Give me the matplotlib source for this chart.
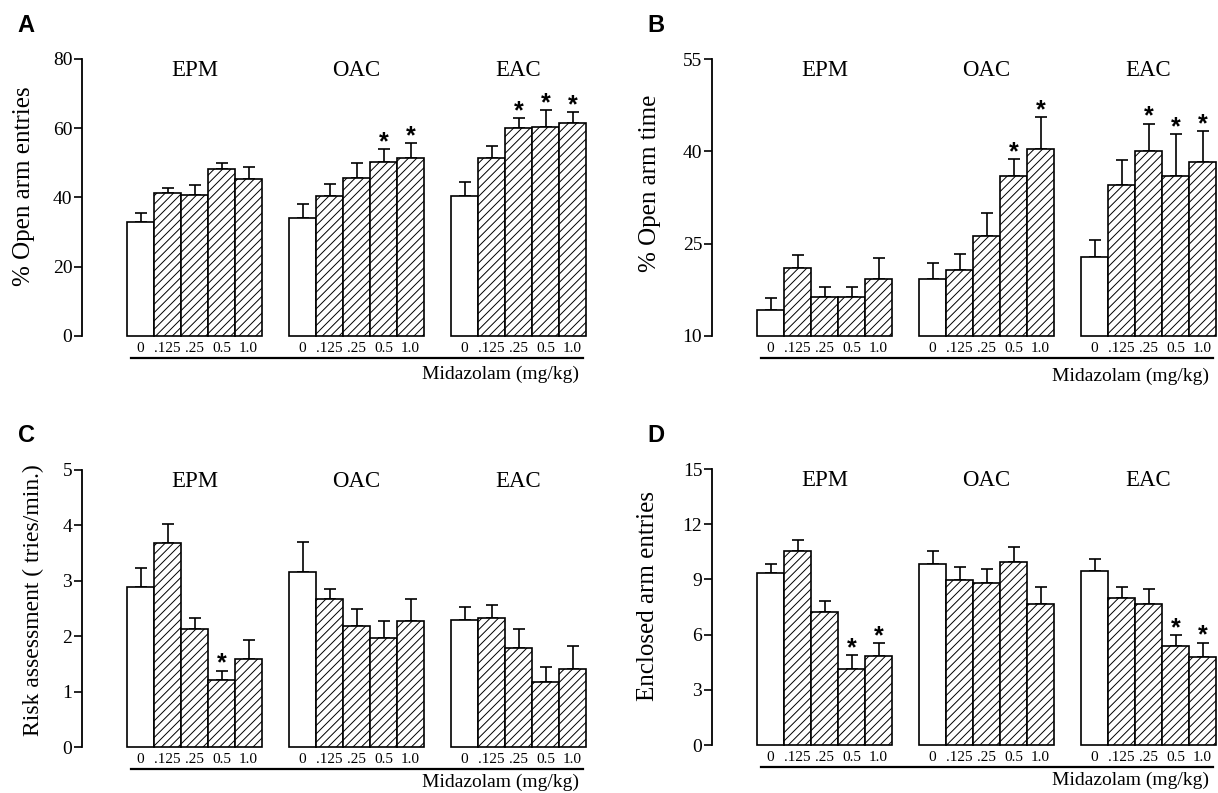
import matplotlib
matplotlib.use('Agg')
import matplotlib.pyplot as plt

plt.rcParams['font.family'] = ['Liberation Serif', 'DejaVu Serif']
plt.rcParams['hatch.linewidth'] = 0.7

W, H = 1218, 793

doses = ['0', '.125', '.25', '0.5', '1.0']
tests = ['EPM', 'OAC', 'EAC']

# A: % open arm entries (bar height, top of error bar), groups EPM / OAC / EAC
a_mean = [[33.0, 41.2, 40.8, 48.1, 45.3],
          [34.0, 40.4, 45.5, 50.3, 51.3],
          [40.3, 51.3, 60.1, 60.5, 61.4]]
a_top = [[35.4, 42.6, 43.5, 50.0, 48.8],
         [38.0, 44.0, 49.9, 53.9, 55.8],
         [44.6, 55.0, 63.0, 65.3, 64.7]]
a_star = [(1, 3), (1, 4), (2, 2), (2, 3), (2, 4)]

# B: % open arm time
b_mean = [[14.3, 21.1, 16.4, 16.4, 19.3],
          [19.2, 20.7, 26.3, 36.0, 40.3],
          [22.9, 34.6, 40.1, 36.0, 38.2]]
b_top = [[16.1, 23.2, 18.0, 18.0, 22.7],
         [21.9, 23.3, 30.0, 38.7, 45.5],
         [25.6, 38.6, 44.5, 42.8, 43.3]]
b_star = [(1, 3), (1, 4), (2, 2), (2, 3), (2, 4)]

# C: risk assessment (tries/min.)
c_mean = [[2.89, 3.68, 2.13, 1.21, 1.58],
          [3.15, 2.67, 2.19, 1.97, 2.28],
          [2.29, 2.33, 1.78, 1.18, 1.41]]
c_top = [[3.24, 4.03, 2.32, 1.38, 1.93],
         [3.70, 2.85, 2.50, 2.27, 2.68],
         [2.53, 2.56, 2.13, 1.45, 1.82]]
c_star = [(0, 3)]

# D: enclosed arm entries
d_mean = [[9.33, 10.55, 7.24, 4.13, 4.82],
          [9.85, 8.96, 8.78, 9.95, 7.67],
          [9.47, 7.98, 7.69, 5.36, 4.78]]
d_top = [[9.82, 11.15, 7.85, 4.87, 5.55],
         [10.55, 9.67, 9.55, 10.76, 8.58],
         [10.09, 8.60, 8.49, 5.96, 5.56]]
d_star = [(0, 3), (0, 4), (2, 3), (2, 4)]


def panel(rect, means, tops, stars, ylim, yticks, mid_y):
    # rect in pixels: left, top, right, bottom
    l, t, r, b = rect
    ax = fig.add_axes([l / W, 1 - b / H, (r - l) / W, (b - t) / H])
    lo = ylim[0]
    centers = []
    for g in range(3):
        for i in range(5):
            x = g * 6 + i
            ax.bar(x, means[g][i] - lo, bottom=lo, width=1, align='edge',
                   color='white', edgecolor='black', linewidth=1.2,
                   hatch=None if i == 0 else '////', clip_on=False, zorder=2)
            ax.errorbar(x + 0.5, means[g][i], yerr=[[0], [tops[g][i] - means[g][i]]],
                        fmt='none', ecolor='black', elinewidth=1.2, capsize=4.5,
                        capthick=1.2, zorder=1, clip_on=False)
            centers.append(x + 0.5)
        ax.text(g * 6 + 2.5, 0.96, tests[g], transform=ax.get_xaxis_transform(),
                ha='center', va='center', fontsize=16.5)
    for g, i in stars:
        ax.annotate('*', (g * 6 + i + 0.5, tops[g][i]), xytext=(0, 5),
                    textcoords='offset points', ha='center', va='center',
                    fontsize=18, fontweight='bold', family='Liberation Sans',
                    annotation_clip=False)
    ax.set_xlim(-1.667, 17.0)
    ax.set_ylim(*ylim)
    ax.set_yticks(yticks)
    ax.set_xticks(centers)
    ax.set_xticklabels(doses * 3)
    ax.tick_params(axis='y', direction='out', length=6, width=1.2, labelsize=14, pad=1)
    ax.tick_params(axis='x', length=0, labelsize=11, pad=4)
    for s in ['top', 'right', 'bottom']:
        ax.spines[s].set_visible(False)
    ax.spines['left'].set_linewidth(1.3)
    ax.patch.set_visible(False)
    ax.plot([0.15, 16.9], [-0.079, -0.079], transform=ax.get_xaxis_transform(),
            color='black', lw=1.6, clip_on=False)
    ax.text(0.987, mid_y, 'Midazolam (mg/kg)', transform=ax.transAxes,
            ha='right', va='center', fontsize=14)
    return ax


fig = plt.figure(figsize=(W / 100, H / 100), dpi=100)

panel((82, 59, 586, 336), a_mean, a_top, a_star, (0, 80), [0, 20, 40, 60, 80], -0.137)
panel((712, 59, 1216, 336), b_mean, b_top, b_star, (10, 55), [10, 25, 40, 55], -0.144)
panel((82, 470, 586, 747), c_mean, c_top, c_star, (0, 5), [0, 1, 2, 3, 4, 5], -0.127)
panel((712, 469, 1216, 745), d_mean, d_top, d_star, (0, 15), [0, 3, 6, 9, 12, 15], -0.127)

fig.text(24 / W, 1 - 186 / H, '% Open arm entries', rotation=90,
         ha='center', va='center', fontsize=18)
fig.text(650 / W, 1 - 183 / H, '% Open arm time', rotation=90,
         ha='center', va='center', fontsize=18)
fig.text(33 / W, 1 - 600 / H, 'Risk assessment ( tries/min.)', rotation=90,
         ha='center', va='center', fontsize=17)
fig.text(648 / W, 1 - 596 / H, 'Enclosed arm entries', rotation=90,
         ha='center', va='center', fontsize=18)

for lab, x, y in [('A', 26, 25), ('B', 656, 25), ('C', 26, 435), ('D', 656, 435)]:
    fig.text(x / W, 1 - y / H, lab, ha='center', va='center', fontsize=17,
             fontweight='bold', family='Liberation Sans')

fig.savefig('out.png', dpi=100)
